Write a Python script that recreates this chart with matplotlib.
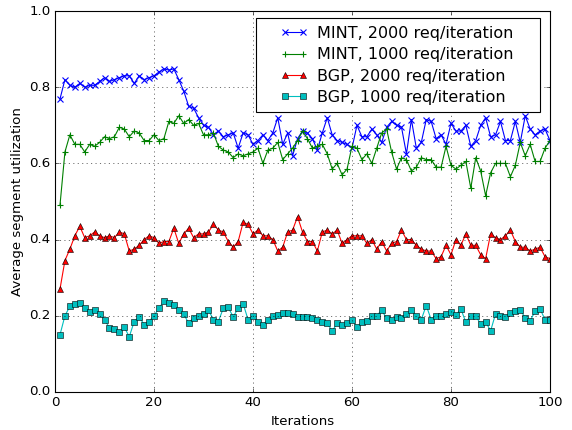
# Average segment utilization per iteration, MINT vs BGP

import matplotlib
matplotlib.use("Agg")
import matplotlib.pyplot as plt
from matplotlib.patches import Rectangle
import numpy as np

plt.style.use("classic")

iterations = np.arange(1, 101)

mint_2000 = [0.769, 0.82, 0.805, 0.80, 0.81, 0.80, 0.805, 0.805, 0.815, 0.825,
             0.815, 0.82, 0.825, 0.83, 0.83, 0.81, 0.83, 0.82, 0.825, 0.83,
             0.84, 0.848, 0.845, 0.848, 0.82, 0.79, 0.75, 0.745, 0.72, 0.70,
             0.695, 0.675, 0.685, 0.67, 0.675, 0.68, 0.64, 0.68, 0.675, 0.65,
             0.66, 0.675, 0.66, 0.68, 0.72, 0.65, 0.68, 0.62, 0.665, 0.685,
             0.68, 0.665, 0.635, 0.68, 0.72, 0.675, 0.66, 0.655, 0.65, 0.64,
             0.70, 0.67, 0.67, 0.69, 0.675, 0.655, 0.695, 0.71, 0.70, 0.695,
             0.625, 0.715, 0.64, 0.655, 0.715, 0.71, 0.665, 0.675, 0.65, 0.705,
             0.685, 0.685, 0.70, 0.645, 0.66, 0.70, 0.72, 0.67, 0.675, 0.71,
             0.66, 0.66, 0.71, 0.655, 0.725, 0.69, 0.675, 0.685, 0.69, 0.66]

mint_1000 = [0.49, 0.63, 0.675, 0.65, 0.65, 0.63, 0.65, 0.645, 0.655, 0.67,
             0.665, 0.67, 0.695, 0.69, 0.67, 0.685, 0.68, 0.66, 0.66, 0.675,
             0.66, 0.665, 0.71, 0.705, 0.725, 0.705, 0.715, 0.70, 0.705, 0.675,
             0.675, 0.68, 0.645, 0.635, 0.63, 0.615, 0.625, 0.62, 0.625, 0.63,
             0.64, 0.60, 0.635, 0.64, 0.655, 0.61, 0.625, 0.64, 0.66, 0.685,
             0.665, 0.64, 0.645, 0.65, 0.625, 0.585, 0.60, 0.57, 0.585, 0.645,
             0.64, 0.61, 0.625, 0.60, 0.64, 0.68, 0.69, 0.63, 0.585, 0.615,
             0.61, 0.58, 0.59, 0.615, 0.61, 0.61, 0.59, 0.59, 0.645, 0.595,
             0.585, 0.595, 0.605, 0.535, 0.615, 0.58, 0.515, 0.575, 0.60, 0.60,
             0.60, 0.565, 0.595, 0.655, 0.62, 0.65, 0.605, 0.605, 0.64, 0.66]

bgp_2000 = [0.27, 0.345, 0.375, 0.41, 0.435, 0.405, 0.41, 0.42, 0.41, 0.405,
            0.41, 0.405, 0.42, 0.415, 0.37, 0.375, 0.385, 0.40, 0.41, 0.405,
            0.39, 0.395, 0.395, 0.43, 0.39, 0.415, 0.43, 0.405, 0.415, 0.415,
            0.42, 0.44, 0.425, 0.42, 0.395, 0.38, 0.395, 0.445, 0.44, 0.415,
            0.425, 0.41, 0.41, 0.40, 0.37, 0.38, 0.42, 0.425, 0.46, 0.42,
            0.395, 0.395, 0.37, 0.42, 0.425, 0.415, 0.425, 0.39, 0.40, 0.41,
            0.41, 0.41, 0.39, 0.40, 0.375, 0.395, 0.37, 0.39, 0.395, 0.425,
            0.40, 0.40, 0.385, 0.375, 0.37, 0.37, 0.35, 0.355, 0.385, 0.36,
            0.40, 0.385, 0.415, 0.385, 0.385, 0.36, 0.35, 0.415, 0.405, 0.40,
            0.41, 0.425, 0.395, 0.38, 0.38, 0.37, 0.375, 0.38, 0.355, 0.35]

bgp_1000 = [0.15, 0.20, 0.225, 0.23, 0.233, 0.22, 0.21, 0.215, 0.205, 0.19,
            0.168, 0.165, 0.157, 0.17, 0.145, 0.185, 0.197, 0.177, 0.185, 0.20,
            0.22, 0.238, 0.233, 0.228, 0.215, 0.205, 0.18, 0.195, 0.20, 0.205,
            0.215, 0.19, 0.185, 0.22, 0.222, 0.197, 0.22, 0.232, 0.19, 0.20,
            0.185, 0.175, 0.19, 0.20, 0.203, 0.207, 0.208, 0.205, 0.197, 0.198,
            0.198, 0.195, 0.19, 0.185, 0.18, 0.16, 0.18, 0.175, 0.18, 0.19,
            0.17, 0.183, 0.187, 0.20, 0.20, 0.215, 0.193, 0.19, 0.198, 0.195,
            0.205, 0.215, 0.20, 0.19, 0.227, 0.19, 0.20, 0.20, 0.205, 0.21,
            0.202, 0.218, 0.183, 0.20, 0.20, 0.178, 0.185, 0.16, 0.205, 0.20,
            0.198, 0.207, 0.212, 0.215, 0.195, 0.187, 0.212, 0.218, 0.19, 0.19]

fig = plt.figure(figsize=(7.15, 5.375), dpi=80)
ax = fig.add_subplot(111)

ax.plot(iterations, mint_2000, "b-x", mew=1, label="MINT, 2000 req/iteration")
ax.plot(iterations, mint_1000, "g-+", mew=1, label="MINT, 1000 req/iteration")
ax.plot(iterations, bgp_2000, "r-^", mec="k", label="BGP, 2000 req/iteration")
ax.plot(iterations, bgp_1000, "c-s", mec="k", label="BGP, 1000 req/iteration")

ax.set_xlim(0, 100)
ax.set_ylim(0, 1.0)
ax.set_xlabel("Iterations")
ax.set_ylabel("Average segment utilization")
ax.grid(True)

# old-style legend box: wide side padding, drawn by hand behind the entries
ax.add_patch(Rectangle((0.406, 0.735), 0.574, 0.2466, transform=ax.transAxes,
                       facecolor="white", edgecolor="black", lw=1, zorder=4.9))
ax.legend(loc="upper left", bbox_to_anchor=(0.4545, 0.961), numpoints=2,
          frameon=False, borderpad=0, borderaxespad=0, handlelength=1.75,
          handletextpad=0.56, labelspacing=0.4)

fig.subplots_adjust(left=0.0962, right=0.9615, bottom=0.0884, top=0.9744)
fig.savefig("out.png", dpi=80)
